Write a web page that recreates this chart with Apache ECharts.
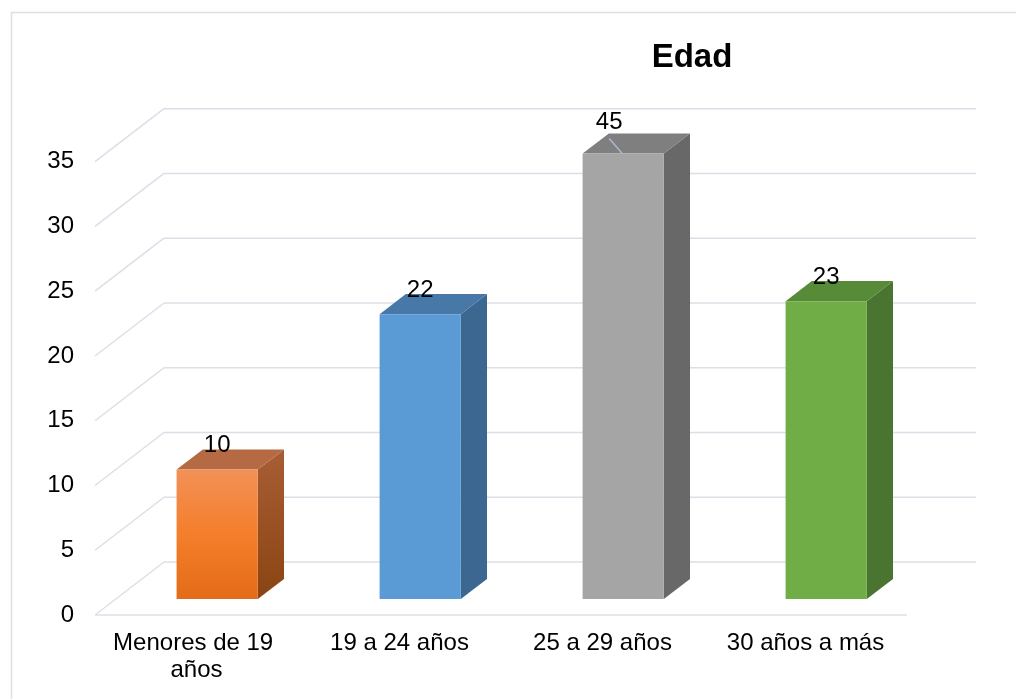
<!DOCTYPE html>
<html>
<head>
<meta charset="utf-8">
<script src="https://cdn.jsdelivr.net/npm/echarts@6/dist/echarts.min.js"></script>
<style>
html,body{margin:0;padding:0;background:#fff;}
#chart{width:1016px;height:699px;}
</style>
</head>
<body>
<div id="chart"></div>
<script>
// ---- data ----
const titleText = 'Edad';
const categories = ['Menores de 19 años', '19 a 24 años', '25 a 29 años', '30 años a más'];
const values = [10, 22, 45, 23];
const yTicks = [0, 5, 10, 15, 20, 25, 30, 35];

// ---- styles ----
const FONT = 'Liberation Sans, Arial, sans-serif';
const DX = 69, DY = -53;          // full depth of the 3D floor
const F1 = 0.30, BD = 0.38;       // bar front depth fraction, bar depth fraction
const CLIP = 34.4;                // bars drawn no higher than this
const GRID_COLOR = '#DCDFE7';
const palette = [
  { front: { type: 'linear', x: 0, y: 0, x2: 0, y2: 1, colorStops: [{ offset: 0, color: '#F29157' }, { offset: 0.5, color: '#F47E2B' }, { offset: 1, color: '#E46C18' }] },
    side: { type: 'linear', x: 0, y: 0, x2: 0, y2: 1, colorStops: [{ offset: 0, color: '#A85E35' }, { offset: 1, color: '#8A4412' }] },
    top: '#B56A43' },
  { front: '#5B9BD5', side: '#3B6790', top: '#4778A8' },
  { front: '#A5A5A5', side: '#686868', top: '#7F7F7F' },
  { front: '#70AD47', side: '#4A7530', top: '#578B37' }
];

const chart = echarts.init(document.getElementById('chart'));

function wallItem(params, api) {
  const v = api.value(1);
  const cs = params.coordSys;
  const p = api.coord([0, v]);
  const x0 = cs.x, x1 = cs.x + cs.width, y = p[1];
  const st = { stroke: GRID_COLOR, lineWidth: 1.5, fill: null };
  const children = [
    { type: 'line', shape: { x1: x0, y1: y, x2: x0 + DX, y2: y + DY }, style: st },
    { type: 'line', shape: { x1: x0 + DX, y1: y + DY, x2: x1 + DX, y2: y + DY }, style: st }
  ];
  if (v === 0) {
    children.push({ type: 'line', shape: { x1: x0, y1: y, x2: x1, y2: y }, style: st });
  }
  return { type: 'group', children: children };
}

function barItem(params, api) {
  const i = api.value(0), v = api.value(1);
  const shown = Math.min(v, CLIP);
  const base = api.coord([i, 0]);
  const top = api.coord([i, shown]);
  const band = api.size([1, 0])[0];
  const w = band * 0.4;
  const fl = base[0] - w / 2 + DX * F1;
  const fr = fl + w;
  const fb = base[1] + DY * F1;
  const ft = top[1] + DY * F1;
  const bx = DX * BD, by = DY * BD;
  const col = palette[i % palette.length];
  const children = [
    { type: 'polygon', shape: { points: [[fr, fb], [fr, ft], [fr + bx, ft + by], [fr + bx, fb + by]] }, style: { fill: col.side } },
    { type: 'polygon', shape: { points: [[fl, ft], [fr, ft], [fr + bx, ft + by], [fl + bx, ft + by]] }, style: { fill: col.top } },
    { type: 'rect', shape: { x: fl, y: ft, width: w, height: fb - ft }, style: { fill: col.front } }
  ];
  const cx = fl + w / 2;
  if (v > CLIP) {
    const lx = cx - 14, ly = ft - 31;
    children.push({ type: 'line', shape: { x1: lx, y1: ly + 16, x2: cx - 1, y2: ft }, style: { stroke: '#A9BACD', lineWidth: 1.5 } });
    children.push({ type: 'text', style: { x: lx, y: ly, text: String(v), fill: '#000', font: '24px ' + FONT, textAlign: 'center', textVerticalAlign: 'middle' } });
  } else {
    children.push({ type: 'text', style: { x: cx, y: ft - 24, text: String(v), fill: '#000', font: '24px ' + FONT, textAlign: 'center', textVerticalAlign: 'middle' } });
  }
  return { type: 'group', children: children };
}

chart.setOption({
  animation: false,
  backgroundColor: '#fff',
  title: {
    text: titleText, left: 687, top: 36, textAlign: 'center',
    textStyle: { fontFamily: FONT, fontSize: 33, fontWeight: 'bold', color: '#000' }
  },
  graphic: [{
    type: 'rect', left: 9, top: 10, silent: true,
    shape: { width: 1030, height: 720 },
    style: { fill: null, stroke: '#DCDFE6', lineWidth: 1.5 }
  }],
  grid: { left: 95, right: 109, top: 161.7, bottom: 84, containLabel: false },
  xAxis: {
    type: 'category', data: categories, boundaryGap: true,
    axisLine: { show: false }, axisTick: { show: false }, splitLine: { show: false },
    axisLabel: { fontFamily: FONT, fontSize: 24, color: '#000', margin: 15, lineHeight: 27, width: 190, overflow: 'break', interval: 0 }
  },
  yAxis: {
    type: 'value', min: 0, max: 35, interval: 5,
    axisLine: { show: false }, axisTick: { show: false }, splitLine: { show: false },
    axisLabel: { fontFamily: FONT, fontSize: 24, color: '#000', margin: 21, formatter: function (v) { return yTicks.indexOf(v) >= 0 ? String(v) : ''; } }
  },
  series: [
    { type: 'custom', name: 'walls', clip: false, z: 1, silent: true,
      data: yTicks.map(function (t) { return [0, t]; }),
      encode: { x: 0, y: 1 }, renderItem: wallItem },
    { type: 'custom', name: 'Edad', clip: false, z: 2,
      data: values.map(function (v, i) { return [i, v]; }),
      encode: { x: 0, y: 1 }, renderItem: barItem }
  ]
});
</script>
</body>
</html>
